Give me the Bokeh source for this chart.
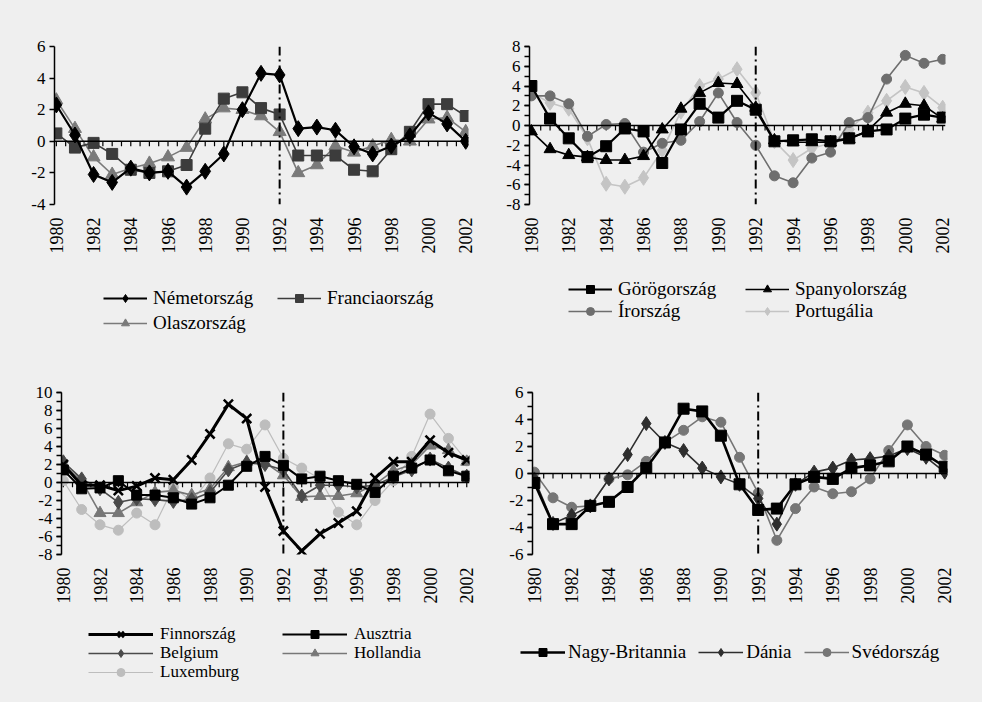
from bokeh.plotting import figure
from bokeh.models import FixedTicker, Span, Legend, LegendItem, Range1d
from bokeh.layouts import column, row
from bokeh.embed import file_html
from bokeh.resources import INLINE
from math import pi

# ---------------- data ----------------
years = list(range(1980, 2003))
year_ticks = list(range(1980, 2003, 2))
half_year_ticks = [y + h for y in years for h in (0, 0.5)][:-1]
break_year = 1992

# panel 1
nemetorszag = [2.3, 0.4, -2.1, -2.6, -1.7, -2.0, -1.9, -2.9, -1.9, -0.8, 2.0, 4.3, 4.2, 0.8, 0.9, 0.7, -0.35, -0.8, -0.3, 0.35, 1.8, 1.1, 0.0]
franciaorszag = [0.5, -0.4, -0.1, -0.8, -1.8, -2.0, -1.9, -1.5, 0.8, 2.7, 3.1, 2.1, 1.7, -0.9, -0.9, -0.9, -1.8, -1.9, -0.5, 0.6, 2.35, 2.35, 1.6]
olaszorszag = [2.6, 0.8, -1.0, -2.1, -1.7, -1.4, -1.0, -0.4, 1.4, 2.1, 2.0, 1.6, 0.6, -2.0, -1.5, -0.3, -0.7, -0.3, 0.1, 0.0, 1.4, 1.5, 0.6]

# panel 2
gorogorszag = [4.0, 0.7, -1.3, -3.2, -2.1, -0.3, -0.6, -3.8, -0.4, 2.2, 0.8, 2.5, 1.6, -1.6, -1.5, -1.4, -1.6, -1.3, -0.6, -0.4, 0.7, 1.1, 0.8]
spanyolorszag = [-0.6, -2.4, -3.0, -3.2, -3.5, -3.5, -3.1, -0.4, 1.7, 3.3, 4.3, 4.2, 1.8, -1.5, -1.7, -1.7, -1.7, -1.4, -0.5, 1.3, 2.2, 2.0, 0.7]
irorszag = [3.0, 3.0, 2.2, -1.1, 0.1, 0.2, -2.7, -1.8, -1.5, 0.4, 3.3, 0.3, -2.0, -5.1, -5.8, -3.3, -2.7, 0.3, 0.8, 4.7, 7.1, 6.3, 6.7]
portugalia = [3.3, 2.3, 1.7, -1.3, -5.9, -6.2, -5.3, -2.5, 1.4, 4.0, 4.7, 5.7, 3.3, -1.6, -3.5, -2.3, -1.8, -0.4, 1.3, 2.5, 3.9, 3.3, 1.8]

# panel 3
finnorszag = [2.0, -0.3, -0.3, -0.9, -0.4, 0.5, 0.3, 2.5, 5.4, 8.7, 7.1, -0.5, -5.4, -7.6, -5.7, -4.5, -3.2, 0.5, 2.3, 2.3, 4.7, 3.3, 2.5]
ausztria = [1.4, -0.7, -0.6, 0.2, -1.4, -1.4, -1.7, -2.4, -1.7, -0.3, 1.8, 2.9, 1.9, 0.4, 0.7, 0.2, -0.2, -1.1, 0.7, 1.6, 2.5, 1.3, 0.7]
belgium = [2.3, 0.4, -0.7, -2.2, -1.8, -1.9, -2.1, -1.9, -1.1, 1.4, 2.2, 2.0, 1.4, -1.5, -0.3, -0.3, -0.5, -0.3, 0.6, 1.4, 2.6, 1.6, 0.7]
hollandia = [1.9, 0.2, -3.4, -3.4, -2.2, -1.1, -0.9, -1.4, -0.7, 1.7, 2.3, 2.2, 0.8, -1.6, -1.5, -1.5, -1.2, -0.2, 1.3, 2.0, 4.1, 3.6, 2.3]
luxemburg = [0.2, -3.0, -4.7, -5.3, -3.4, -4.7, -0.5, -2.1, 0.5, 4.3, 3.7, 6.4, 2.7, 1.6, 0.4, -3.3, -4.7, -2.0, 0.2, 2.9, 7.6, 4.9, 2.4]

# panel 4
nagy_britannia = [-0.7, -3.75, -3.75, -2.4, -2.1, -1.0, 0.4, 2.3, 4.8, 4.6, 2.8, -0.8, -2.7, -2.6, -0.8, -0.25, -0.4, 0.4, 0.6, 0.9, 2.0, 1.4, 0.5]
dania = [-0.4, -3.7, -3.1, -2.4, -0.4, 1.4, 3.7, 2.3, 1.7, 0.4, -0.25, -0.8, -1.85, -3.75, -0.8, 0.1, 0.4, 1.0, 1.1, 1.3, 1.85, 1.2, 0.1]
svedorszag = [0.1, -1.8, -2.5, -2.4, -0.4, -0.1, 0.9, 2.3, 3.2, 4.2, 3.8, 1.2, -1.45, -4.95, -2.6, -1.0, -1.5, -1.35, -0.4, 1.7, 3.6, 2.0, 1.35]

BG = "#efefef"
FONT = "'Liberation Serif'"


def add_series(p, vals, color, lw, marker, msize):
    """Line plus markers for one country; returns both renderers."""
    r_line = p.line(years, vals, line_color=color, line_width=lw)
    if marker == "x":
        r_mark = p.scatter(years, vals, marker="x", size=msize,
                           line_color=color, line_width=2.5)
    else:
        r_mark = p.scatter(years, vals, marker=marker, size=msize,
                           fill_color=color, line_color=color, line_width=1)
    return [r_line, r_mark]


def make_chart(series, draw_order, y_lo, y_hi, minor, width, height, borders):
    left, right, top, bottom = borders
    p = figure(width=width, height=height, output_backend="svg", toolbar_location=None,
               x_range=Range1d(1979.9, 2002.15), y_range=Range1d(y_lo, y_hi),
               min_border_left=left, min_border_right=right,
               min_border_top=top, min_border_bottom=bottom,
               background_fill_color=BG, border_fill_color=BG, outline_line_color=None)
    p.grid.visible = False

    # year labels along the bottom
    xa = p.xaxis[0]
    xa.ticker = FixedTicker(ticks=year_ticks)
    xa.axis_line_color = None
    xa.major_tick_line_color = None
    xa.major_tick_out = 0
    xa.major_tick_in = 0
    xa.minor_tick_line_color = None
    xa.major_label_orientation = pi / 2
    xa.major_label_standoff = 13
    xa.major_label_text_font = FONT
    xa.major_label_text_font_size = "18px"
    xa.major_label_text_color = "black"

    # value axis
    ya = p.yaxis[0]
    ya.ticker = FixedTicker(ticks=list(range(y_lo, y_hi + 1, 2)),
                            minor_ticks=list(range(y_lo, y_hi + 1)) if minor else [])
    ya.axis_line_color = "black"
    ya.axis_line_width = 1.5
    ya.major_tick_line_color = "black"
    ya.major_tick_line_width = 1.5
    ya.major_tick_out = 5
    ya.major_tick_in = 0
    ya.minor_tick_line_color = "black"
    ya.minor_tick_line_width = 1.5
    ya.minor_tick_out = 5
    ya.minor_tick_in = 0
    ya.major_label_standoff = 4
    ya.major_label_text_font = FONT
    ya.major_label_text_font_size = "17px"
    ya.major_label_text_color = "black"
    ya.major_label_overrides = {v: str(v) for v in range(y_lo, y_hi + 1, 2)}

    # zero line with half-year tick marks hanging below it
    frame_h = height - top - bottom
    tick_len = 5 * (y_hi - y_lo) / frame_h
    p.add_layout(Span(location=0, dimension="width", line_color="black", line_width=1.5))
    p.segment(x0=half_year_ticks, x1=half_year_ticks, y0=[0] * len(half_year_ticks),
              y1=[-tick_len] * len(half_year_ticks), line_color="black", line_width=1.2)

    p.add_layout(Span(location=break_year, dimension="height", line_color="black",
                      line_width=2, line_dash="9 4 2 4"))

    for name in draw_order:
        add_series(p, *series[name])
    return p


def make_key(series, width, height, rows, x, ys, leg):
    """A strip holding only the key of one chart, one Legend per row.

    The series are drawn here too, but the view is kept off their values so
    that only the key samples show."""
    p = figure(width=width, height=height, output_backend="svg", toolbar_location=None,
               x_range=Range1d(0, 1), y_range=Range1d(0, 1),
               min_border=0, min_border_left=0, min_border_right=0,
               min_border_top=0, min_border_bottom=0,
               background_fill_color=BG, border_fill_color=BG, outline_line_color=None)
    p.axis.visible = False
    p.grid.visible = False
    rend = {name: add_series(p, *spec) for name, spec in series.items()}
    for names, y in zip(rows, ys):
        items = [LegendItem(label=n, renderers=rend[n]) for n in names]
        p.add_layout(Legend(items=items, location=(x, y), orientation="horizontal",
                            glyph_width=leg["gw"], glyph_height=20,
                            label_height=20, label_width=leg["lw"], spacing=leg["sp"],
                            label_standoff=leg["so"], padding=0, margin=0,
                            border_line_color=None, background_fill_alpha=0,
                            label_text_font=FONT, label_text_font_size=leg["fs"],
                            label_text_color="black"))
    return p


panel1 = {
    "Németország": (nemetorszag, "black", 2.2, "diamond", 16),
    "Franciaország": (franciaorszag, "#3c3c3c", 1.6, "square", 11),
    "Olaszország": (olaszorszag, "#7a7a7a", 1.6, "triangle", 13),
}
panel2 = {
    "Görögország": (gorogorszag, "black", 2.2, "square", 11),
    "Spanyolország": (spanyolorszag, "black", 1.6, "triangle", 12),
    "Írország": (irorszag, "#6e6e6e", 1.6, "circle", 10),
    "Portugália": (portugalia, "#c4c4c4", 1.6, "diamond", 15),
}
panel3 = {
    "Finnország": (finnorszag, "black", 3, "x", 13),
    "Ausztria": (ausztria, "black", 2, "square", 10),
    "Belgium": (belgium, "#4a4a4a", 1.6, "diamond", 14),
    "Hollandia": (hollandia, "#777777", 1.6, "triangle", 12),
    "Luxemburg": (luxemburg, "#bdbdbd", 1.2, "circle", 10),
}
panel4 = {
    "Nagy-Britannia": (nagy_britannia, "black", 2.6, "square", 11),
    "Dánia": (dania, "#2e2e2e", 1.6, "diamond", 14),
    "Svédország": (svedorszag, "#767676", 1.6, "circle", 10),
}

p1 = make_chart(panel1, ["Olaszország", "Franciaország", "Németország"], -4, 6, False,
                490, 265, (54, 22, 46, 60))
p2 = make_chart(panel2, ["Portugália", "Írország", "Spanyolország", "Görögország"], -8, 8, True,
                492, 265, (39, 37, 43, 61))
p3 = make_chart(panel3, ["Luxemburg", "Hollandia", "Belgium", "Ausztria", "Finnország"], -8, 10, True,
                490, 262, (61, 21, 42, 53))
p4 = make_chart(panel4, ["Svédország", "Dánia", "Nagy-Britannia"], -6, 6, True,
                492, 262, (42, 35, 42, 58))

k1 = make_key(panel1, 490, 85, [["Németország", "Franciaország"], ["Olaszország"]],
              103, [41, 16], dict(gw=44, lw=121, sp=3, so=6, fs="19px"))
k2 = make_key(panel2, 492, 85, [["Görögország", "Spanyolország"], ["Írország", "Portugália"]],
              78, [50, 28], dict(gw=44, lw=127, sp=0, so=6, fs="19px"))
k3 = make_key(panel3, 490, 90, [["Finnország", "Ausztria"], ["Belgium", "Hollandia"], ["Luxemburg"]],
              88, [58, 39, 20], dict(gw=65, lw=122, sp=0, so=7, fs="17px"))
k4 = make_key(panel4, 492, 90, [["Nagy-Britannia", "Dánia", "Svédország"]],
              30, [39], dict(gw=45, lw=20, sp=12, so=3, fs="19px"))

page = column(row(p1, p2), row(k1, k2), row(p3, p4), row(k3, k4))
page.styles = {"background-color": BG}
open("out.html", "w").write(file_html(page, INLINE))
